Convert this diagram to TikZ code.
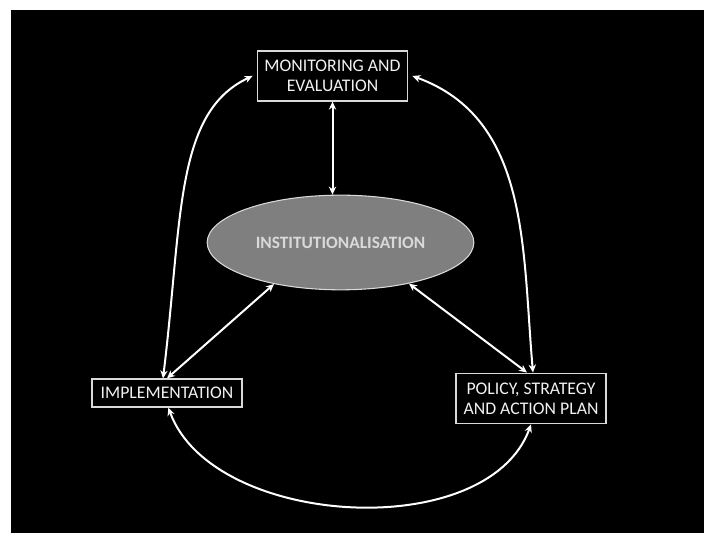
\documentclass[tikz,border=0pt]{standalone}
\usepackage{fontspec}
\setmainfont{Carlito}
\usetikzlibrary{arrows.meta,shapes.geometric}
\definecolor{boxline}{HTML}{D9D9D9}
\definecolor{boxtext}{HTML}{F2F2F2}
\definecolor{ovalfill}{HTML}{7F7F7F}
\definecolor{ovaltext}{HTML}{D9D9D9}
\begin{document}
\begin{tikzpicture}[x=0.75pt,y=0.75pt,
    stagebox/.style={draw=boxline, line width=0.9pt, text=boxtext, align=center,
      inner sep=2pt, font=\fontsize{13.3}{15}\selectfont},
    hub/.style={ellipse, draw=boxline, line width=0.8pt, fill=ovalfill, text=ovaltext,
      minimum width=200pt, minimum height=71pt, font=\fontsize{13}{15}\selectfont\bfseries},
    link/.style={draw=white, line width=1.5pt,
      {Stealth[length=6pt,width=5.5pt]}-{Stealth[length=6pt,width=5.5pt]}}]
        \fill[white] (0,0) rectangle (704,533);
        \fill[black] (11,0) rectangle (704,523);

        \node[stagebox, minimum width=113pt, minimum height=37.5pt] (mon) at (332.5,457) {MONITORING AND\\EVALUATION};
        \node[stagebox, minimum width=112.5pt, minimum height=21pt] (impl) at (167,140) {IMPLEMENTATION};
        \node[stagebox, minimum width=112.5pt, minimum height=38pt] (pol) at (531,134.5) {POLICY, STRATEGY\\AND ACTION PLAN};
        \node[hub] (inst) at (340.5,290.5) {INSTITUTIONALISATION};

        \draw[link] (mon.south) -- (mon.south |- inst.north);
        \draw[link] (impl.north) -- (inst.212);
        \draw[link] (inst.329) -- ([xshift=-3pt]pol.north);
        \draw[link] ([xshift=-3pt]impl.north) to[out=83,in=205,out looseness=1.3,in looseness=0.7] ([xshift=-3pt]mon.west);
        \draw[link] ([xshift=3pt]mon.east) to[out=-20,in=95] ([xshift=1.5pt]pol.north);
        \draw[link] ([xshift=1pt]impl.south) to[out=-70,in=-110,looseness=0.9] (pol.south);
      \end{tikzpicture}
\end{document}
